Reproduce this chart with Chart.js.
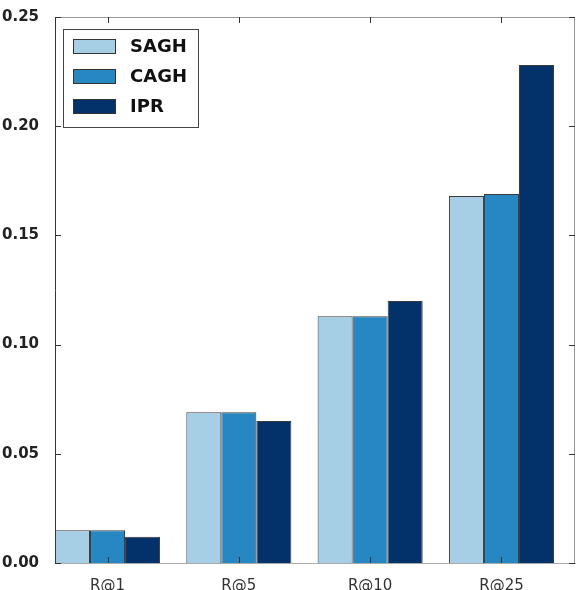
<!DOCTYPE html>
<html>
<head>
<meta charset="utf-8">
<script src="https://cdn.jsdelivr.net/npm/chart.js@4.4.1/dist/chart.umd.min.js"></script>
<style>
  html, body { margin: 0; padding: 0; background: #fff; }
  #wrap { width: 576px; height: 590px; }
</style>
</head>
<body>
<div id="wrap"><canvas id="recallChart"></canvas></div>
<script>
const categories = ['R@1', 'R@5', 'R@10', 'R@25'];
const saghValues = [0.015, 0.069, 0.113, 0.168];
const caghValues = [0.015, 0.069, 0.113, 0.169];
const iprValues = [0.012, 0.065, 0.120, 0.228];
const seriesNames = ['SAGH', 'CAGH', 'IPR'];
const seriesColors = ['#a6cee4', '#2787c2', '#03316a'];

// bars sit from i to i+0.8, label in the middle (matplotlib style)
const toPoints = (vals) => vals.map((v, i) => ({ x: i + 0.4, y: v }));

// inner tick marks + top/right spines
const frameTicks = {
  id: 'frameTicks',
  afterDatasetsDraw(chart) {
    const { ctx, chartArea: a, scales } = chart;
    ctx.save();
    ctx.lineWidth = 1;
    ctx.strokeStyle = '#999';
    ctx.beginPath();
    ctx.moveTo(a.left, a.top + 0.5); ctx.lineTo(a.right, a.top + 0.5);
    ctx.moveTo(a.right - 0.5, a.top); ctx.lineTo(a.right - 0.5, a.bottom);
    ctx.stroke();
    ctx.strokeStyle = '#333';
    ctx.beginPath();
    scales.x.ticks.forEach((t, i) => {
      const px = Math.round(scales.x.getPixelForTick(i)) + 0.5;
      ctx.moveTo(px, a.bottom); ctx.lineTo(px, a.bottom - 6);
      ctx.moveTo(px, a.top); ctx.lineTo(px, a.top + 6);
    });
    scales.y.ticks.forEach((t, i) => {
      const py = Math.round(scales.y.getPixelForTick(i)) + 0.5;
      ctx.moveTo(a.left, py); ctx.lineTo(a.left + 6, py);
      ctx.moveTo(a.right, py); ctx.lineTo(a.right - 6, py);
    });
    ctx.stroke();
    ctx.restore();
  },
  afterDraw(chart) {
    // legend box, upper left inside the axes
    const { ctx } = chart;
    const bx = 63.5, by = 29.5, bw = 135, bh = 98;
    ctx.save();
    ctx.fillStyle = '#fff';
    ctx.fillRect(bx, by, bw, bh);
    ctx.strokeStyle = '#444';
    ctx.lineWidth = 1;
    ctx.strokeRect(bx, by, bw, bh);
    ctx.font = 'bold 18px "DejaVu Sans"';
    ctx.textBaseline = 'middle';
    chart.data.datasets.forEach((ds, i) => {
      const y = 39.5 + i * 30;
      ctx.fillStyle = ds.backgroundColor;
      ctx.fillRect(73.5, y, 42, 14);
      ctx.strokeStyle = '#333';
      ctx.strokeRect(73.5, y, 42, 14);
      ctx.fillStyle = '#111';
      ctx.fillText(ds.label, 130, y + 7.5);
    });
    ctx.restore();
  }
};

Chart.defaults.font.family = '"DejaVu Sans", sans-serif';

new Chart(document.getElementById('recallChart'), {
  type: 'bar',
  data: {
    datasets: [
      { label: seriesNames[0], data: toPoints(saghValues), backgroundColor: seriesColors[0] },
      { label: seriesNames[1], data: toPoints(caghValues), backgroundColor: seriesColors[1] },
      { label: seriesNames[2], data: toPoints(iprValues), backgroundColor: seriesColors[2] }
    ].map(d => Object.assign(d, {
      borderColor: '#3a3a3a',
      borderWidth: 1,
      categoryPercentage: 0.8,
      barPercentage: 1.0
    }))
  },
  options: {
    responsive: true,
    maintainAspectRatio: false,
    animation: false,
    layout: { padding: { top: 17, right: 1, left: 0, bottom: 0 } },
    plugins: { legend: { display: false }, tooltip: { enabled: false } },
    scales: {
      x: {
        type: 'linear',
        offset: false,
        min: 0,
        max: 3.96,
        grid: { display: false, offset: false },
        border: { display: true, color: '#aaa', width: 1 },
        afterBuildTicks: (s) => { s.ticks = categories.map((c, i) => ({ value: i + 0.4 })); },
        afterFit: (s) => { s.height = 27; },
        ticks: {
          autoSkip: false,
          maxRotation: 0,
          padding: 6,
          color: '#333',
          font: { size: 15 },
          callback: (v, i) => categories[i]
        }
      },
      y: {
        min: 0,
        max: 0.25,
        grid: { display: false },
        border: { display: true, color: '#333', width: 1 },
        afterFit: (s) => { s.width = 55; },
        ticks: {
          stepSize: 0.05,
          padding: 8,
          color: '#222',
          font: { size: 15, weight: 'bold' },
          callback: (v) => v.toFixed(2)
        }
      }
    }
  },
  plugins: [frameTicks]
});
</script>
</body>
</html>
